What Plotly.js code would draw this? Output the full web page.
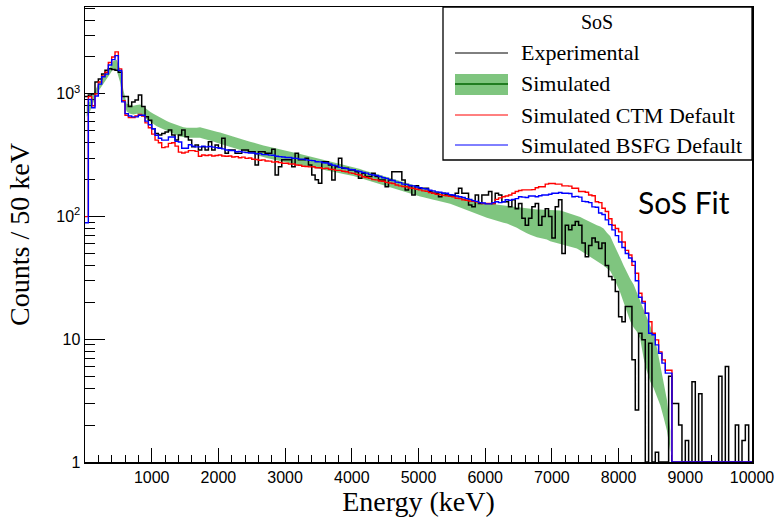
<!DOCTYPE html>
<html><head><meta charset="utf-8">
<script src="https://cdn.plot.ly/plotly-3.0.1.min.js"></script>
<style>html,body{margin:0;padding:0;background:#fff}</style>
</head><body><div id="chart" style="width:780px;height:518px"></div>
<script>
// ---- data: counts per 50 keV bin, bins start at 0 keV ----
const binWidth = 50;
const xTickVals = [1000,2000,3000,4000,5000,6000,7000,8000,9000,10000];
const yTickVals = [1, 10, 100, 1000];
const yTickText = ['1', '10', '10<sup>2</sup>', '10<sup>3</sup>'];

const experimental = [
 950, 980, 1000, 1250, 1320, 1450, 1560, 1600, 1580, 1560,
 1500, 950, 950, 790, 860, 890, 980, 790, 650, 610,
 520, 476, 462, 476, 490, 508, 462, 421, 462, 508,
 448, 421, 371, 383, 349, 371, 349, 408, 349, 383,
 360, 434, 328, 349, 349, 328, 328, 349, 349, 338,
 338, 263, 338, 338, 328, 328, 354, 218, 255, 290,
 290, 290, 255, 328, 290, 290, 299, 263, 218, 200,
 187, 280, 280, 263, 199, 255, 299, 248, 248, 240,
 240, 232, 205, 225, 212, 212, 225, 212, 199, 199,
 175, 199, 232, 232, 232, 199, 165, 178, 150, 178,
 170, 170, 170, 160, 155, 155, 145, 155, 150, 150,
 148, 155, 170, 155, 155, 124, 120, 150, 128, 150,
 150, 160, 128, 155, 150, 132, 132, 120, 137, 116,
 128, 97, 85, 97, 120, 128, 85, 100, 116, 100,
 67, 120, 137, 50, 85, 78, 85, 91, 85, 61,
 47, 58, 67, 62, 55, 61, 40, 32.5, 30.5, 24.5,
 15.3, 13.9, 18.5, 18.5, 6.8, 2.65, 11.2, 9.9, 0, 9.3,
 0, 1.2, 0, 0, 0, 5.0, 3.0, 3.0, 2.0, 0,
 1.5, 0, 4.5, 0, 3.6, 0, 0, 0, 0, 0,
 5.0, 0, 6.0, 0, 0, 2.0, 0, 1.5, 2.0, 0
];

const simCTM = [
 100, 950, 800, 1000, 1250, 1400, 1500, 1800, 2000, 2200,
 1600, 880, 670, 640, 640, 660, 680, 660, 580, 530,
 470, 420, 400, 365, 370, 395, 400, 375, 335, 330,
 335, 345, 345, 340, 310, 318, 315, 318, 312, 315,
 318, 312, 310, 312, 306, 308, 302, 305, 298, 300,
 293, 292, 288, 290, 284, 283, 278, 280, 276, 272,
 272, 268, 268, 263, 262, 257, 256, 254, 255, 250,
 250, 246, 248, 243, 242, 238, 238, 234, 232, 227,
 225, 221, 218, 211, 208, 205, 200, 199, 195, 194,
 190, 188, 186, 181, 178, 176, 175, 171, 170, 167,
 165, 162, 161, 157, 155, 152, 151, 149, 148, 146,
 145, 141, 140, 137, 136, 134, 133, 132, 130, 128,
 128, 128, 128, 138, 142, 145, 147, 150, 155, 160,
 163, 165, 165, 165, 166, 172, 175, 175, 184, 186,
 186, 184, 184, 178, 178, 177, 170, 170, 160, 160,
 158, 150, 148, 132, 130, 117, 110, 96, 85, 80,
 75, 62, 53, 48.6, 40, 34.5, 23.7, 20.3, 16.3, 13.9,
 11.2, 9.9, 7.9, 6.8, 5.6, 5.6, 0, 0, 0, 0,
 0, 0, 0, 0, 0, 0, 0, 0, 0, 0,
 0, 0, 0, 0, 0, 0, 0, 0, 0, 0
];

const simBSFG = [
 89, 900, 770, 960, 1200, 1380, 1450, 1720, 1900, 2050,
 1550, 860, 690, 660, 650, 650, 670, 670, 600, 560,
 520, 460, 435, 420, 420, 445, 445, 410, 405, 360,
 360, 385, 375, 370, 370, 375, 370, 372, 368, 365,
 360, 356, 349, 346, 345, 338, 340, 335, 332, 330,
 330, 325, 326, 320, 320, 317, 316, 310, 308, 306,
 303, 303, 299, 298, 294, 294, 290, 287, 286, 280,
 279, 275, 273, 268, 262, 259, 252, 249, 246, 242,
 241, 236, 233, 229, 226, 221, 218, 216, 212, 207,
 205, 199, 197, 191, 189, 184, 183, 179, 178, 174,
 172, 169, 168, 164, 162, 159, 158, 155, 155, 151,
 150, 147, 145, 143, 140, 138, 135, 133, 130, 129,
 127, 127, 130, 132, 130, 132, 137, 136, 138, 140,
 145, 144, 143, 147, 147, 145, 148, 150, 150, 152,
 155, 155, 157, 155, 155, 154, 145, 146, 144, 133,
 132, 130, 120, 119, 107, 104, 94, 86, 78, 70,
 62, 56, 50, 46, 43, 30, 22, 19.7, 16.3, 11.2,
 10.9, 9.0, 7.7, 6.4, 5.3, 5.3, 0, 0, 0, 0,
 0, 0, 0, 0, 0, 0, 0, 0, 0, 0,
 0, 0, 0, 0, 0, 0, 0, 0, 0, 0
];

// simulated band (lower / upper edge), bins 0 .. 8750 keV
const simLow = [
 650, 720, 850, 1000, 1100, 1200, 1300, 1450, 1600, 1550,
 1250, 880, 720, 690, 680, 690, 680, 650, 620, 590,
 565, 545, 530, 515, 500, 485, 470, 460, 450, 445,
 440, 440, 438, 440, 438, 430, 425, 418, 410, 400,
 392, 385, 378, 370, 362, 355, 348, 341, 334, 328,
 322, 316, 310, 305, 300, 296, 291, 287, 283, 280,
 276, 272, 268, 265, 262, 259, 256, 253, 250, 248,
 245, 242, 239, 235, 232, 229, 226, 222, 220, 218,
 214, 210, 206, 202, 198, 194, 190, 186, 182, 179,
 176, 173, 170, 167, 163, 160, 157, 154, 150, 148,
 146, 144, 141, 139, 137, 135, 133, 132, 130, 127,
 124, 121, 118, 115, 113, 111, 108, 105, 103, 100,
 98, 96, 94, 92, 91, 89, 88, 86, 84, 81,
 78, 75, 73, 71, 69, 68, 67, 66, 65, 63,
 62, 61, 60, 59, 58, 57, 56, 55, 53, 51,
 49, 47, 45, 43, 42, 40, 38, 36, 32, 28,
 24, 20, 17, 14, 12.5, 11.5, 10, 7, 5.5, 4.5,
 4, 3.4, 2.9, 2.3, 1.8, 1.2
];
const simHigh = [
 800, 880, 1000, 1150, 1280, 1380, 1500, 1650, 1850, 1900,
 1600, 1080, 830, 810, 800, 810, 820, 790, 750, 715,
 690, 665, 640, 620, 600, 585, 570, 560, 545, 535,
 530, 528, 525, 530, 535, 525, 518, 510, 502, 492,
 485, 475, 465, 455, 447, 438, 430, 423, 415, 408,
 400, 394, 387, 380, 375, 370, 364, 359, 354, 349,
 343, 338, 333, 328, 323, 318, 313, 308, 304, 299,
 295, 291, 287, 283, 279, 275, 271, 267, 260, 258,
 254, 249, 244, 239, 234, 230, 226, 222, 218, 214,
 210, 206, 202, 198, 194, 190, 186, 183, 180, 177,
 174, 171, 168, 165, 162, 160, 157, 156, 154, 152,
 150, 148, 146, 144, 142, 140, 137, 133, 132, 130,
 129, 127, 126, 125, 123, 122, 121, 120, 120, 119,
 118, 117, 117, 116, 115, 114, 114, 113, 113, 113,
 113, 113, 112, 110, 108, 106, 104, 102, 99, 96,
 93, 90, 87, 85, 83, 80, 74, 69, 60, 53,
 46, 40, 35, 31, 28, 24, 20, 17.5, 15, 13,
 11, 8.5, 6, 4.5, 3.2, 1.8
];

// ---- helpers ----
const yMin = 1; // empty bins drawn on the bottom of the frame, as in ROOT
function stepX(n){ const a=[]; for(let i=0;i<=n;i++) a.push(i*binWidth); return a; }
function stepY(v){ const a=v.map(c => c>0 ? c : yMin); a.push(a[a.length-1]); return a; }
function centers(n){ const a=[]; for(let i=0;i<n;i++) a.push(i*binWidth+binWidth/2); return a; }

const L=85, R=752, T=7, B=462, W=780, H=518;
const px = x => (x-L)/(R-L);
const py = y => (B-y)/(B-T);

const serif = 'Liberation Serif, Times New Roman, serif';
const sans = 'Liberation Sans, Arial, Helvetica, sans-serif';
const bandColor = 'rgba(0,140,0,0.5)';

const traces = [
 {x: centers(simLow.length), y: simLow, mode:'lines', line:{width:0, color:bandColor}, showlegend:false, hoverinfo:'skip', name:'Simulated low'},
 {x: centers(simHigh.length), y: simHigh, mode:'lines', fill:'tonexty', fillcolor:bandColor, line:{width:0, color:bandColor}, showlegend:false, name:'Simulated'},
 {x: stepX(experimental.length), y: stepY(experimental), mode:'lines', line:{shape:'hv', color:'#000000', width:1.5}, showlegend:false, name:'Experimental'},
 {x: stepX(simCTM.length), y: stepY(simCTM), mode:'lines', line:{shape:'hv', color:'#ff0000', width:1.4}, showlegend:false, name:'Simulated CTM Default'},
 {x: stepX(simBSFG.length), y: stepY(simBSFG), mode:'lines', line:{shape:'hv', color:'#0000ff', width:1.4}, showlegend:false, name:'Simulated BSFG Default'}
];

const legendRows = [
 {label:'Experimental', y:53},
 {label:'Simulated', y:84},
 {label:'Simulated CTM Default', y:115},
 {label:'Simulated BSFG Default', y:145}
];
const sx0 = px(455), sx1 = px(508);

const shapes = [
 {type:'rect', xref:'paper', yref:'paper', x0:px(443), x1:1, y0:py(160), y1:1, fillcolor:'#ffffff', line:{color:'#000', width:1.3}, layer:'above'},
 {type:'line', xref:'paper', yref:'paper', x0:sx0, x1:sx1, y0:py(53), y1:py(53), line:{color:'#000', width:1}, layer:'above'},
 {type:'rect', xref:'paper', yref:'paper', x0:sx0, x1:sx1, y0:py(95), y1:py(74), fillcolor:bandColor, line:{width:0}, layer:'above'},
 {type:'line', xref:'paper', yref:'paper', x0:sx0, x1:sx1, y0:py(84), y1:py(84), line:{color:'#006400', width:1.5}, layer:'above'},
 {type:'line', xref:'paper', yref:'paper', x0:sx0, x1:sx1, y0:py(115), y1:py(115), line:{color:'#ff0000', width:1}, layer:'above'},
 {type:'line', xref:'paper', yref:'paper', x0:sx0, x1:sx1, y0:py(145), y1:py(145), line:{color:'#0000ff', width:1}, layer:'above'}
];

const annotations = [
 {text:'SoS', xref:'paper', yref:'paper', x:px(597), y:py(22), xanchor:'center', yanchor:'middle', showarrow:false, font:{family:serif, size:20, color:'#000'}},
 ...legendRows.map(r => ({text:r.label, xref:'paper', yref:'paper', x:px(519), y:py(r.y), xanchor:'left', yanchor:'middle', showarrow:false, font:{family:serif, size:22, color:'#000'}})),
 {text:'SoS Fit', xref:'paper', yref:'paper', x:px(684), y:py(202), xanchor:'center', yanchor:'middle', showarrow:false, font:{family:'Lato, Open Sans, sans-serif', size:30, color:'#000'}}
];

const minorY = [];
[1,10,100,1000].forEach(d => { for(let k=2;k<=9;k++){ if(d*k < 5100) minorY.push(d*k); } });

const layout = {
 width:W, height:H,
 margin:{l:L, r:W-R, t:T, b:H-B, pad:0},
 paper_bgcolor:'#fff', plot_bgcolor:'#fff',
 showlegend:false,
 xaxis:{
  range:[0,10000], showgrid:false, zeroline:false,
  showline:true, linecolor:'#000', linewidth:1.5, mirror:true,
  ticks:'inside', ticklen:14, tickwidth:1, tickcolor:'#000',
  tickvals:xTickVals, ticktext:xTickVals.map(String),
  tickfont:{family:sans, size:16, color:'#000'},
  minor:{dtick:200, tick0:0, ticks:'inside', ticklen:7, tickwidth:1, tickcolor:'#000', showgrid:false},
  title:{text:'Energy (keV)', font:{family:serif, size:28, color:'#000'}, standoff:6},
  automargin:false, layer:'below traces'
 },
 yaxis:{
  type:'log', range:[0, 3.708], showgrid:false, zeroline:false,
  showline:true, linecolor:'#000', linewidth:1.5, mirror:true,
  ticks:'inside', ticklen:20, tickwidth:1, tickcolor:'#000',
  tickvals:yTickVals, ticktext:yTickText,
  tickfont:{family:sans, size:16, color:'#000'},
  minor:{tickvals:minorY, ticks:'inside', ticklen:10, tickwidth:1, tickcolor:'#000', showgrid:false},
  title:{text:'Counts / 50 keV', font:{family:serif, size:28, color:'#000'}, standoff:18},
  automargin:false, layer:'below traces'
 },
 shapes:shapes,
 annotations:annotations
};

Plotly.newPlot('chart', traces, layout, {displayModeBar:false, staticPlot:true});
</script>
</body></html>
